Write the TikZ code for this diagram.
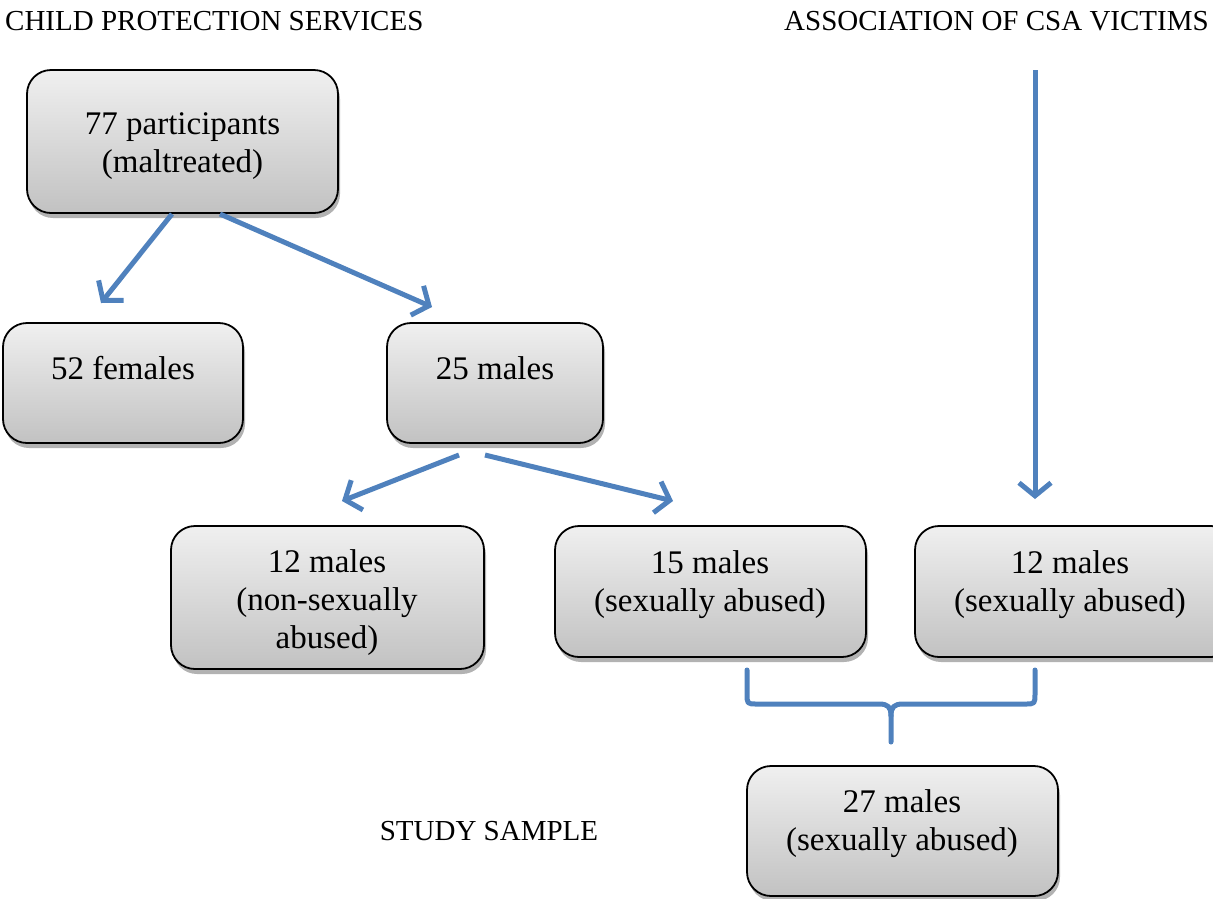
\documentclass[tikz,border=0pt]{standalone}
\usepackage{fontspec}
\setmainfont{Liberation Serif}
\usetikzlibrary{arrows.meta,shadows,calc}
\definecolor{arrowblue}{HTML}{4F81BD}
\tikzset{
  box/.style={draw=black, line width=1.8pt, rounded corners=24pt, top color=gray!12, bottom color=gray!48,
    drop shadow={shadow xshift=2pt, shadow yshift=-5pt, opacity=0.3, fill=black},
    inner sep=0pt, outer sep=0pt, anchor=north west},
  lbl/.style={font=\fontsize{33}{38}\selectfont, align=center, inner sep=0pt},
  ttl/.style={font=\fontsize{29}{34}\selectfont, inner sep=0pt},
  conn/.style={draw=arrowblue, line width=5pt, -{Straight Barb[length=13pt,width=32pt,line width=5pt]}},
  brace/.style={draw=arrowblue, line width=5pt, line cap=round, line join=round}
}
\begin{document}
\begin{tikzpicture}[x=1pt,y=-1pt]
\useasboundingbox (0,0) rectangle (1213,898);
% titles
\node[ttl, anchor=west] (tcps) at (5,21) {CHILD PROTECTION SERVICES};
\node[ttl, anchor=east] (tcsa) at (1209,21) {ASSOCIATION OF CSA VICTIMS};
\node[ttl] (tss) at (489,831) {STUDY SAMPLE};
% boxes
\node[box, minimum width=311pt, minimum height=143pt] (b77) at (27,70) {};
\node[box, minimum width=240pt, minimum height=120pt] (b52) at (3,323) {};
\node[box, minimum width=216pt, minimum height=120pt] (b25) at (387,323) {};
\node[box, minimum width=313pt, minimum height=143pt] (b12n) at (171,526) {};
\node[box, minimum width=311pt, minimum height=131pt] (b15) at (555,526) {};
\node[box, minimum width=320pt, minimum height=131pt] (b12s) at (915,526) {};
\node[box, minimum width=311pt, minimum height=130pt] (b27) at (747,766) {};
% texts
\node[lbl] (t77) at (182.5,146) {77 participants\\(maltreated)};
\node[lbl] (t52) at (123,368) {52 females};
\node[lbl] (t25) at (495,368) {25 males};
\node[lbl] (t12n) at (327,603) {12 males\\(non-sexually\\abused)};
\node[lbl] (t15) at (710,585) {15 males\\(sexually abused)};
\node[lbl] (t12s) at (1070,585) {12 males\\(sexually abused)};
\node[lbl] (t27) at (902,824) {27 males\\(sexually abused)};
% arrow endpoints
\coordinate (a1s) at (172,214);
\coordinate (a1e) at (101,303);
\coordinate (a2s) at (220,214);
\coordinate (a2e) at (432,307);
\coordinate (a3s) at (459,455);
\coordinate (a3e) at (342,501);
\coordinate (a4s) at (485,455);
\coordinate (a4e) at (673,501);
\coordinate (a5s) at (1035,70);
\coordinate (a5e) at (1035,499);
\draw[conn] (a1s) -- (a1e);
\draw[conn] (a2s) -- (a2e);
\draw[conn] (a3s) -- (a3e);
\draw[conn] (a4s) -- (a4e);
\draw[conn] (a5s) -- (a5e);
% brace
\coordinate (bl) at (747,670);
\coordinate (br) at (1035,670);
\coordinate (bt) at (891,742);
\draw[brace] (bl) -- (747,693) .. controls (747,704) .. (757,704) -- (879,704)
  .. controls (888,704) and (891,707) .. (891,716) -- (bt);
\draw[brace] (br) -- (1035,693) .. controls (1035,704) .. (1025,704) -- (903,704)
  .. controls (894,704) and (891,707) .. (891,716);
\end{tikzpicture}
\end{document}
